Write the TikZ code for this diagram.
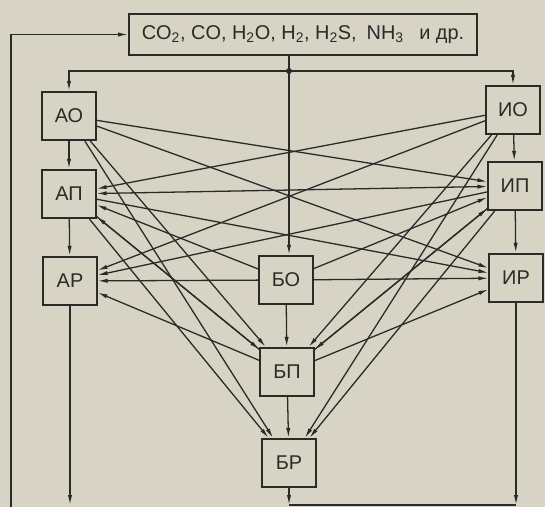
\documentclass[tikz,border=0pt]{standalone}
\usepackage{fontspec}
\setmainfont{Liberation Sans}
\usetikzlibrary{arrows.meta}

\definecolor{paper}{RGB}{215,211,197}
\definecolor{ink}{RGB}{42,42,40}

\begin{document}
\begin{tikzpicture}[
        x=0.03cm, y=-0.03cm,
        >={Latex[length=8.5pt,width=3.6pt]},
        box/.style={rectangle, draw=ink, fill=paper, line width=1.6pt, minimum width=1.6cm, minimum height=1.45cm, inner sep=0pt, text=ink, font=\fontsize{17}{20}\selectfont},
        gasbox/.style={box, minimum width=10.44cm, minimum height=1.23cm},
        link/.style={draw=ink, line width=1.1pt, ->},
        wire/.style={draw=ink, line width=1.1pt}
    ]
        \fill[paper] (0,0) rectangle (545,507);
        \useasboundingbox (0,0) rectangle (545,507);

        % Nodes
        \node[gasbox] (gas) at (303,34.5) {CO\textsubscript{2}, CO, H\textsubscript{2}O, H\textsubscript{2}, H\textsubscript{2}S,\enspace NH\textsubscript{3}\enspace\ и др.};
        \node[box] (ao) at (69,116) {АО};
        \node[box] (ap) at (69,194) {АП};
        \node[box] (ar) at (70,281) {АР};
        \node[box] (io) at (513,110) {ИО};
        \node[box] (ip) at (515,186) {ИП};
        \node[box] (ir) at (516,278) {ИР};
        \node[box] (bo) at (286,280) {БО};
        \node[box] (bp) at (287,372) {БП};
        \node[box] (br) at (289,463) {БР};

        \coordinate (jn) at (289,71);
        \coordinate (fb) at (11,507);
        \coordinate (bot) at (0,505);

        % Feed
        \draw[wire] (gas.south -| jn) -- (jn);
        \fill[ink] (jn) circle (3);
        \draw[link] (jn) -| (ao);
        \draw[link] (jn) -| (io);
        \draw[link] (jn) -- (jn |- bo.north);
        \draw[link] (fb) |- (gas);

        % Edges
        \draw[link] (ao) -- (ap);
        \draw[link] (ao) -- (bp);
        \draw[link] (ao) -- (br);
        \draw[link] (ao) -- (ip);
        \draw[link] (ao) -- (ir);

        \draw[link] (io) -- (ip);
        \draw[link] (io) -- (bp);
        \draw[link] (io) -- (br);
        \draw[link] (io) -- (ap);
        \draw[link] (io) -- (ar);

        \draw[link] (bo) -- (bp);
        \draw[link] (bo) -- (ap);
        \draw[link] (bo) -- (ip);
        \draw[link] (bo) -- (ar);
        \draw[link] (bo) -- (ir);

        \draw[link] (ap) -- (ar);
        \draw[link] (ap) -- (bp);
        \draw[link] (ap) -- (br);
        \draw[link] (ap) -- (ir);
        \draw[link, <->] (ap) -- (ip);

        \draw[link] (ip) -- (ir);
        \draw[link] (ip) -- (bp);
        \draw[link] (ip) -- (br);
        \draw[link] (ip) -- (ar);

        \draw[link] (bp) -- (br);
        \draw[link] (bp) -- (ar);
        \draw[link] (bp) -- (ir);
        \draw[link] (bp) -- (ap);
        \draw[link] (bp) -- (ip);

        % Outputs
        \draw[link] (ar) -- (ar |- bot);
        \draw[link] (br) -- (br |- bot);
        \draw[link] (ir) -- (ir |- bot);
        \draw[wire] (br |- bot) -- (ir |- bot);

    \end{tikzpicture}
\end{document}
